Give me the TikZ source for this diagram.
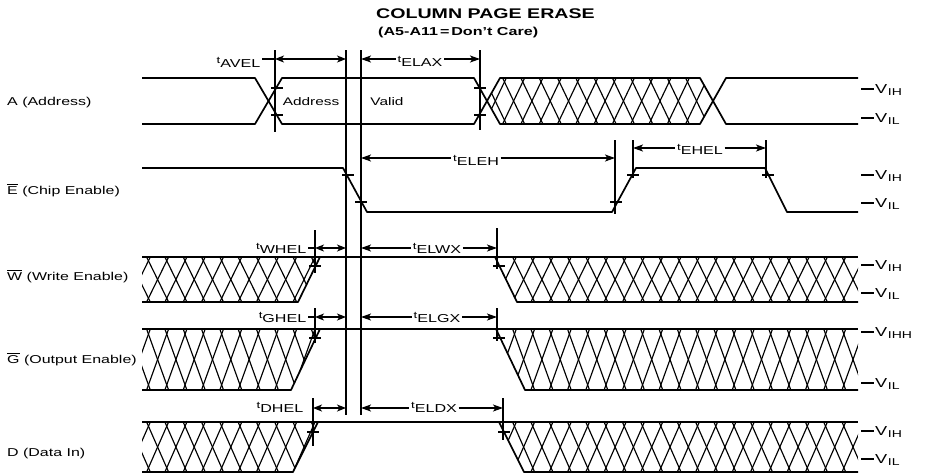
\documentclass[tikz,border=0pt]{standalone}
\usepackage{fontspec}
\setmainfont{Liberation Sans}[FakeStretch=1.4]
\usetikzlibrary{arrows.meta}
\newcommand\ovl[1]{\leavevmode\vbox{\hrule height 1pt\kern1.3pt\hbox{#1}}}
\newcommand\tlab[1]{\raisebox{3.2pt}{\fontsize{9.5}{10}\selectfont t}{\fontsize{11.5}{13}\selectfont #1}}
\newcommand\vlab[1]{{\fontsize{13}{13}\selectfont V}\kern0.8pt\raisebox{-1.2pt}{\fontsize{10}{10}\selectfont #1}}
\newcommand\xhatch[5]{\begin{scope}\clip #1;\foreach \k in {0,...,#5}{\draw[hatchln] ({#4+\k*18.3},#2) -- ++(22,#3);\draw[hatchln] ({#4+\k*18.3+22},#2) -- ++(-22,#3);}\end{scope}}
\tikzset{
  sig/.style={line width=1.7pt, line join=round},
  hatchln/.style={line width=1.15pt},
  refl/.style={line width=1.3pt},
  dimln/.style={line width=1.2pt},
  dimarr/.style={dimln, -{Stealth[length=10pt,width=7pt,inset=2.5pt]}},
  dimrev/.style={dimln, {Stealth[length=10pt,width=7pt,inset=2.5pt]}-},
  dimboth/.style={dimln, {Stealth[length=9pt,width=7pt,inset=2.5pt]}-{Stealth[length=9pt,width=7pt,inset=2.5pt]}},
  tk/.style={line width=1.2pt},
  sigtxt/.style={anchor=base west, inner sep=0pt, font=\fontsize{11.4}{14}\selectfont},
  tlbl/.style={inner sep=1.5pt, anchor=base},
  vtxt/.style={anchor=base west, inner sep=0.8pt},
}
\begin{document}
\begin{tikzpicture}[x=1pt,y=-1pt]
\useasboundingbox (0,0) rectangle (925,475);
\fill[white] (0,0) rectangle (925,475);

% title
\node[anchor=west, inner sep=0pt, font=\bfseries\fontsize{14}{16}\selectfont] (title) at (376,14) {COLUMN PAGE ERASE};
\node[anchor=west, inner sep=0pt, font=\bfseries\fontsize{11.5}{13}\selectfont] (subtitle) at (378,33) {(A5-A11\,=\,Don’t Care)};

% signal names
\node[sigtxt] (lA) at (7,105) {A (Address)};
\node[sigtxt] (lE) at (7,194) {\ovl{E} (Chip Enable)};
\node[sigtxt] (lW) at (7,280) {\ovl{W} (Write Enable)};
\node[sigtxt] (lG) at (7,363) {\ovl{G} (Output Enable)};
\node[sigtxt] (lD) at (7,456) {D (Data In)};

% ---------------- A row
\xhatch{(487,101) -- (500,78) -- (700,78) -- (713,101) -- (700,124) -- (500,124) -- cycle}{78}{46}{466}{14}
\draw[sig] (142,78) -- (255,78) -- (282,124) -- (474,124) -- (500,78) -- (700,78) -- (726,124) -- (858,124);
\draw[sig] (142,124) -- (255,124) -- (282,78) -- (474,78) -- (500,124) -- (700,124) -- (726,78) -- (858,78);
\node[anchor=base, inner sep=0pt, font=\fontsize{11}{12}\selectfont] (addr) at (311,105) {Address};
\node[anchor=base, inner sep=0pt, font=\fontsize{11}{12}\selectfont] (valid) at (387,105) {Valid};

% ---------------- E row
\draw[sig] (142,168) -- (343,168) -- (367,212) -- (612,212) -- (636,168) -- (765,168) -- (787,212) -- (858,212);

% ---------------- W row
\xhatch{(142,257) -- (320,257) -- (298,302) -- (142,302) -- cycle}{257}{45}{128.3}{12}
\xhatch{(495,257) -- (858,257) -- (858,302) -- (517,302) -- cycle}{257}{45}{476}{22}
\draw[sig] (142,257) -- (858,257);
\draw[sig] (142,302) -- (298,302) -- (320,257);
\draw[sig] (495,257) -- (517,302) -- (858,302);

% ---------------- G row
\xhatch{(142,329) -- (320,329) -- (291,390) -- (142,390) -- cycle}{329}{61}{128.3}{12}
\xhatch{(496,329) -- (858,329) -- (858,390) -- (525,390) -- cycle}{329}{61}{476}{22}
\draw[sig] (142,329) -- (858,329);
\draw[sig] (142,390) -- (291,390) -- (320,329);
\draw[sig] (496,329) -- (525,390) -- (858,390);

% ---------------- D row
\xhatch{(142,422) -- (318,422) -- (293,472) -- (142,472) -- cycle}{422}{50}{128.3}{12}
\xhatch{(499,422) -- (858,422) -- (858,472) -- (524,472) -- cycle}{422}{50}{476}{22}
\draw[sig] (142,422) -- (858,422);
\draw[sig] (142,472) -- (293,472) -- (318,422);
\draw[sig] (499,422) -- (524,472) -- (858,472);

% ---------------- ticks
\foreach \x/\y in {277/88, 277/115, 480/88, 480/115, 348/175, 361/202, 616/202, 633/175, 768/175,
                   315/266, 499/266, 315/338, 499/338, 313/432, 504/432}
  {\draw[tk] (\x-6,\y) -- (\x+6,\y);}

% ---------------- reference lines
\draw[refl] (275,50) -- (275,132);
\draw[refl] (346,50) -- (346,415);
\draw[refl] (361,50) -- (361,415);
\draw[refl] (480,50) -- (480,130);
\draw[refl] (615,140) -- (615,214);
\draw[refl] (633,140) -- (633,178);
\draw[refl] (766,140) -- (766,178);
\draw[refl] (315,230) -- (315,273);
\draw[refl] (315,308) -- (315,343);
\draw[refl] (497,228) -- (497,269);
\draw[refl] (497,308) -- (497,341);
\draw[refl] (313,398) -- (313,446);
\draw[refl] (503,398) -- (503,440);

% ---------------- timing arrows
% tAVEL / tELAX
\coordinate (avA) at (275,59); \coordinate (avB) at (346,59);
\coordinate (laA) at (361,59); \coordinate (laB) at (480,59);
\node[tlbl, anchor=base east] (tAVEL) at (262,67) {\tlab{AVEL}};
\draw[dimln] (tAVEL.east |- avA) -- (avA);
\draw[dimboth] (avA) -- (avB);
\node[tlbl] (tELAX) at (420,66) {\tlab{ELAX}};
\draw[dimrev] (laA) -- (tELAX.west |- laA);
\draw[dimarr] (tELAX.east |- laB) -- (laB);

% tELEH
\coordinate (ehA) at (361,158); \coordinate (ehB) at (615,158);
\node[tlbl] (tELEH) at (476,165) {\tlab{ELEH}};
\draw[dimrev] (ehA) -- (tELEH.west |- ehA);
\draw[dimarr] (tELEH.east |- ehB) -- (ehB);

% tEHEL
\coordinate (heA) at (633,148); \coordinate (heB) at (766,148);
\node[tlbl] (tEHEL) at (700,154) {\tlab{EHEL}};
\draw[dimrev] (heA) -- (tEHEL.west |- heA);
\draw[dimarr] (tEHEL.east |- heB) -- (heB);

% tWHEL / tELWX
\coordinate (whA) at (315,248); \coordinate (whB) at (346,248);
\coordinate (lwA) at (361,248); \coordinate (lwB) at (497,248);
\node[tlbl, anchor=base east] (tWHEL) at (308,253) {\tlab{WHEL}};
\draw[dimln] (tWHEL.east |- whA) -- (whA);
\draw[dimboth] (whA) -- (whB);
\node[tlbl] (tELWX) at (437,253) {\tlab{ELWX}};
\draw[dimrev] (lwA) -- (tELWX.west |- lwA);
\draw[dimarr] (tELWX.east |- lwB) -- (lwB);

% tGHEL / tELGX
\coordinate (ghA) at (315,317); \coordinate (ghB) at (346,317);
\coordinate (lgA) at (361,317); \coordinate (lgB) at (497,317);
\node[tlbl, anchor=base east] (tGHEL) at (308,322) {\tlab{GHEL}};
\draw[dimln] (tGHEL.east |- ghA) -- (ghA);
\draw[dimboth] (ghA) -- (ghB);
\node[tlbl] (tELGX) at (437,322) {\tlab{ELGX}};
\draw[dimrev] (lgA) -- (tELGX.west |- lgA);
\draw[dimarr] (tELGX.east |- lgB) -- (lgB);

% tDHEL / tELDX
\coordinate (dhA) at (313,408); \coordinate (dhB) at (346,408);
\coordinate (ldA) at (361,408); \coordinate (ldB) at (503,408);
\node[tlbl, anchor=base east] (tDHEL) at (305,412) {\tlab{DHEL}};
\draw[dimboth] (dhA) -- (dhB);
\node[tlbl] (tELDX) at (434,412) {\tlab{ELDX}};
\draw[dimrev] (ldA) -- (tELDX.west |- ldA);
\draw[dimarr] (tELDX.east |- ldB) -- (ldB);

% ---------------- level labels
\foreach \y/\t/\n in {89/IH/vA1, 118/IL/vA2, 175/IH/vE1, 203/IL/vE2, 265/IH/vW1, 293/IL/vW2,
                      332/IHH/vG1, 383/IL/vG2, 431/IH/vD1, 459/IL/vD2}
  {\coordinate (\n d) at (861,\y);
   \node[vtxt] (\n) at (874,\y+4.8) {\vlab{\t}};
   \draw[dimln] (\n d) -- (\n.west |- \n d);}
\end{tikzpicture}
\end{document}
